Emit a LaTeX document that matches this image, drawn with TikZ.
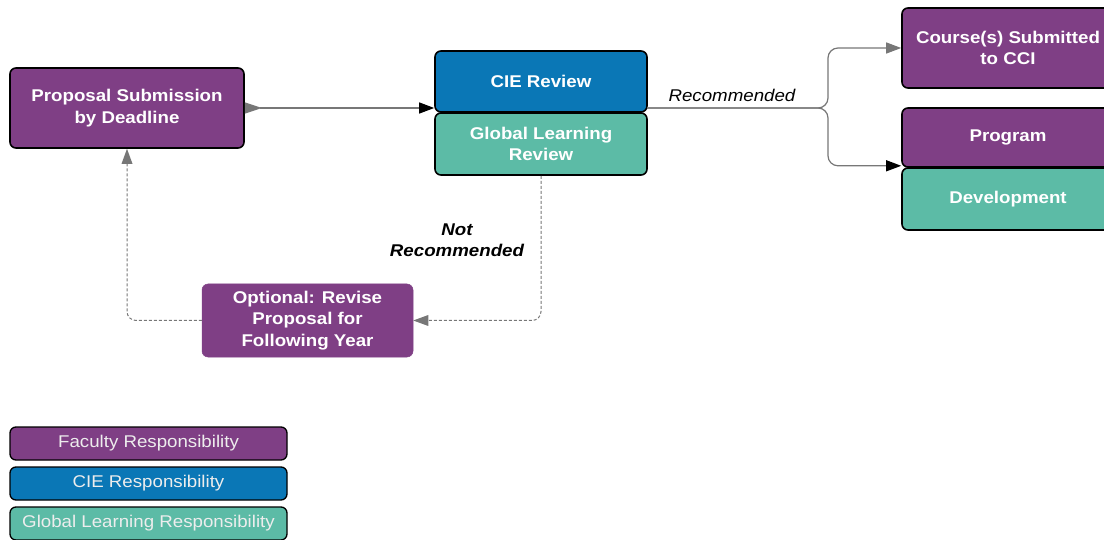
\documentclass[tikz,border=0pt]{standalone}
\usepackage{fontspec}
\setmainfont{Liberation Sans}[FakeStretch=1.1]
\usetikzlibrary{arrows.meta,calc}

\definecolor{faculty}{HTML}{7F3F85}
\definecolor{cie}{HTML}{0A77B6}
\definecolor{glr}{HTML}{5CBBA6}
\definecolor{link}{HTML}{777777}

\tikzset{
  tipgrey/.tip={Triangle[length=15pt,width=11pt,color=link]},
  tipblack/.tip={Triangle[length=15pt,width=11pt,color=black]},
  tipdash/.tip={Triangle[length=15pt,width=11pt,color=link,line width=0pt]},
  tipstart/.tip={Triangle[reversed,length=17pt,width=11pt,color=link]}
}

\begin{document}
\begin{tikzpicture}[x=1pt,y=-1pt,
  box/.style={rectangle, rounded corners=6pt, draw=black, line width=1.6pt,
    text=white, align=center, inner sep=0pt,
    font=\fontsize{17}{21.5}\selectfont\bfseries},
  facultybox/.style={box, fill=faculty},
  ciebox/.style={box, fill=cie},
  glbox/.style={box, fill=glr},
  keybox/.style={box, line width=1.3pt, minimum width=277pt, minimum height=33pt,
    text=white!93!black, font=\fontsize{17}{20}\selectfont},
  flow/.style={draw=link, line width=1.2pt},
  loop/.style={draw=link, line width=1pt, dash pattern=on 3pt off 2pt, rounded corners=9pt},
  note/.style={font=\fontsize{17}{21}\selectfont\itshape, align=center}
]
\useasboundingbox (0,0) rectangle (1104,540);

% process boxes
\node[facultybox, minimum width=234pt, minimum height=80pt] (prop) at (127,108)
  {Proposal Submission\\by Deadline};
\node[ciebox, minimum width=212pt, minimum height=61pt] (cie) at (541,81.5) {CIE Review};
\node[glbox, minimum width=212pt, minimum height=62pt] (gl) at (541,144)
  {Global Learning\\Review};
\node[facultybox, minimum width=212pt, minimum height=80pt] (course) at (1008,48)
  {Course(s) Submitted\\to CCI};
\node[facultybox, minimum width=212pt, minimum height=59pt] (program) at (1008,137.5) {Program};
\node[glbox, minimum width=212pt, minimum height=62pt] (dev) at (1008,199) {Development};
\node[facultybox, draw=faculty, line width=0.5pt, minimum width=211pt, minimum height=73pt]
  (revise) at (307.5,320.5) {Optional: Revise\\Proposal for\\Following Year};

% legend
\node[keybox, fill=faculty] (keyfac) at (148.5,443.5) {Faculty Responsibility};
\node[keybox, fill=cie] (keycie) at (148.5,483.5) {CIE Responsibility};
\node[keybox, fill=glr] (keygl) at (148.5,523.5) {Global Learning Responsibility};

% submission to review
\draw[flow, tipstart-tipblack] (prop.east) -- (prop.east -| cie.west);

% recommended branches
\coordinate (out) at (647,108);
\coordinate (split) at (828,108);
\coordinate (devin) at ($(program.south west)+(0,-2)$);
\draw[flow, rounded corners=10pt, -tipgrey] (out) -- (split) |- (course.west);
\draw[flow, rounded corners=10pt, -tipblack] (out) -- (split) |- (devin);
\node[note] (rec) at (732,95) {Recommended};

% not recommended loop
\draw[loop, -tipdash] (gl.south) |- (revise.east);
\draw[loop, -tipdash] (revise.west) -| (prop.south);
\node[note, font=\fontsize{17}{21}\selectfont\bfseries\itshape] (notrec) at (457,240.5)
  {Not\\Recommended};
\end{tikzpicture}
\end{document}
